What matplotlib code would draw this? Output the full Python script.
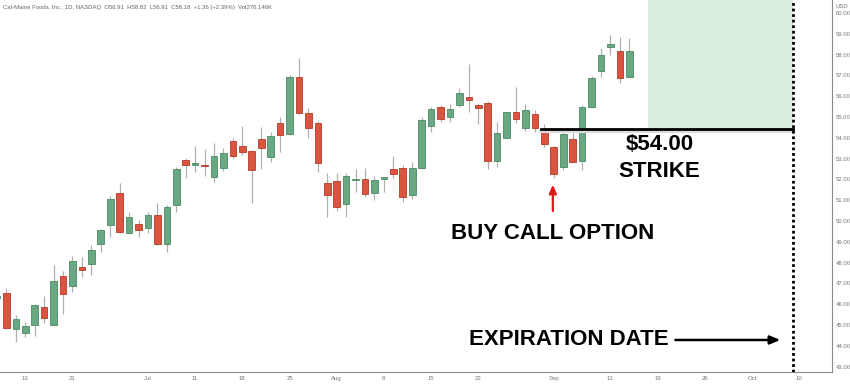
import pandas as pd
import matplotlib
matplotlib.use("Agg")
import matplotlib.pyplot as plt
from matplotlib.patches import Rectangle

# trading days shown on the chart (2022, NASDAQ calendar)
holidays = ["2022-06-20", "2022-07-04", "2022-09-05"]
dates = pd.bdate_range("2022-06-08", "2022-10-14", freq="C", holidays=holidays)

# daily candles, Cal-Maine Foods (CALM)
opens = [46.30, 46.55, 44.79, 44.63, 45.00, 45.88, 45.01, 47.37, 46.88, 47.77,
         47.95, 48.91, 49.79, 51.35, 49.41, 49.86, 49.68, 50.29, 48.88, 50.78,
         52.93, 52.71, 52.68, 52.13, 52.56, 53.85, 53.60, 53.38, 53.94, 53.09,
         54.70, 54.17, 56.91, 55.18, 54.70, 51.84, 51.92, 50.83, 51.96, 52.03,
         51.36, 52.00, 52.49, 52.53, 51.25, 52.53, 54.58, 55.48, 55.00, 55.59,
         55.98, 55.58, 55.69, 52.88, 54.00, 55.25, 54.47, 55.13, 54.34, 53.57,
         52.58, 53.94, 52.88, 55.47, 57.21, 58.37, 58.19, 56.91]
highs = [46.50, 46.76, 45.48, 45.16, 46.00, 46.39, 47.88, 47.61, 48.32, 48.26,
         48.85, 49.60, 51.20, 51.84, 50.45, 50.05, 50.43, 50.85, 50.75, 52.61,
         53.01, 53.60, 53.45, 53.76, 53.50, 53.98, 54.57, 53.40, 54.50, 54.30,
         54.99, 57.02, 57.82, 55.42, 54.81, 52.29, 52.29, 52.29, 52.49, 52.53,
         52.16, 52.12, 53.13, 52.69, 52.82, 54.99, 55.50, 55.58, 55.61, 56.38,
         57.55, 55.66, 55.78, 54.77, 55.25, 56.46, 55.61, 55.34, 54.65, 53.60,
         54.30, 54.30, 55.58, 56.97, 58.30, 58.94, 58.86, 58.82]
lows = [46.20, 44.80, 44.20, 44.44, 44.49, 45.11, 45.00, 45.53, 46.60, 47.29,
        47.40, 48.50, 49.22, 49.44, 49.39, 49.25, 49.41, 48.86, 48.52, 50.42,
        52.05, 52.34, 52.18, 51.89, 52.42, 53.01, 53.17, 50.85, 52.50, 52.85,
        53.33, 54.15, 55.15, 53.98, 52.37, 50.21, 50.50, 50.21, 51.41, 51.17,
        51.00, 51.41, 52.05, 50.90, 51.04, 52.50, 54.26, 54.75, 54.75, 55.47,
        55.25, 54.66, 52.49, 52.61, 54.00, 54.70, 54.34, 54.29, 53.57, 52.08,
        52.45, 52.85, 52.45, 55.45, 56.94, 57.98, 56.62, 56.91]
closes = [46.40, 44.86, 45.29, 44.97, 45.96, 45.35, 47.12, 46.50, 48.09, 47.66,
          48.60, 49.57, 51.07, 49.46, 50.19, 49.57, 50.30, 48.88, 50.67, 52.50,
          52.69, 52.76, 52.63, 53.13, 53.25, 53.14, 53.33, 52.45, 53.50, 54.09,
          54.13, 56.91, 55.18, 54.49, 52.77, 51.25, 50.69, 52.15, 52.00, 51.31,
          51.97, 52.12, 52.26, 51.14, 52.53, 54.84, 55.37, 54.92, 55.37, 56.14,
          55.80, 55.45, 52.88, 54.23, 55.23, 54.92, 55.32, 54.49, 53.70, 52.25,
          54.17, 52.85, 55.47, 56.88, 57.98, 58.51, 56.86, 58.18]

tick_dates = ["2022-06-13", "2022-06-21", "2022-07-01", "2022-07-11", "2022-07-18",
              "2022-07-25", "2022-08-01", "2022-08-08", "2022-08-15", "2022-08-22",
              "2022-09-01", "2022-09-12", "2022-09-19", "2022-09-26", "2022-10-03",
              "2022-10-10"]
tick_labels = ["13", "21", "Jul", "11", "18", "25", "Aug", "8", "15", "22",
               "Sep", "12", "19", "26", "Oct", "10"]
price_ticks = list(range(43, 61))

header = ("Cal-Maine Foods, Inc., 1D, NASDAQ  O56.91  H58.82  L56.91  C58.18  "
          "+1.36 (+2.39%)  Vol276.146K")

GREEN, GREEN_EDGE = "#6aa883", "#4b8a63"
RED, RED_EDGE = "#da5540", "#b63a28"
GRID_GREY = "#8a8a8a"

fig = plt.figure(figsize=(8.5, 3.85), dpi=100)
ax = fig.add_axes([0, 13 / 385, 832 / 850, 372 / 385])

x = list(range(len(closes)))
up = [c >= o for o, c in zip(opens, closes)]
bottoms = [min(o, c) for o, c in zip(opens, closes)]
heights = [max(abs(c - o), 0.06) for o, c in zip(opens, closes)]

# wicks, then bodies
ax.vlines(x, lows, highs, color="#b0b0b0", lw=0.9, zorder=2)
ax.bar(x, heights, bottom=bottoms, width=0.7,
       color=[GREEN if u else RED for u in up],
       edgecolor=[GREEN_EDGE if u else RED_EDGE for u in up],
       linewidth=0.6, zorder=3)

# annotations
ax.add_patch(Rectangle((68.95, 54.4), 84.35 - 68.95, 7, color="#d9eedf",
                       lw=0, zorder=1))
ax.plot([57.6, 84.4], [54.33, 54.33], color="#dcdcdc", lw=3, zorder=3)
ax.plot([57.6, 84.4], [54.4, 54.4], color="black", lw=2, zorder=4)
ax.axvline(84.4, color="black", lw=2, ls=(0, (1, 1)), zorder=4)

bold = dict(family="Liberation Sans", weight="bold", fontsize=16,
            ha="center", va="center", color="black", zorder=5)
ax.text(70.25, 53.70, "$54.00", **bold)
ax.text(70.15, 52.36, "STRIKE", **bold)
ax.text(58.9, 49.38, "BUY CALL OPTION", **bold)
ax.text(60.6, 44.28, "EXPIRATION DATE", **bold)

ax.annotate("", xy=(58.9, 51.88), xytext=(58.9, 50.35),
            arrowprops=dict(arrowstyle="-|>,head_length=0.5,head_width=0.22",
                            color="#e8141b", lw=1.6))
ax.annotate("", xy=(83.3, 44.28), xytext=(71.6, 44.28),
            arrowprops=dict(arrowstyle="-|>,head_length=0.6,head_width=0.25",
                            color="black", lw=1.8))

ax.set_xlim(0.32, 88.48)
ax.set_ylim(42.74, 60.625)

positions = [dates.get_loc(pd.Timestamp(d)) for d in tick_dates]
ax.set_xticks(positions)
ax.set_xticklabels(tick_labels)
ax.yaxis.tick_right()
ax.set_yticks(price_ticks)
ax.set_yticklabels([f"{p:.2f}" for p in price_ticks])
ax.tick_params(axis="both", length=0, labelsize=4.3, labelcolor="#777777",
               labelfontfamily="Liberation Sans")
ax.tick_params(axis="x", pad=3)
ax.tick_params(axis="y", pad=3)

for side in ["top", "left"]:
    ax.spines[side].set_visible(False)
for side in ["right", "bottom"]:
    ax.spines[side].set_color(GRID_GREY)
    ax.spines[side].set_linewidth(0.8)

fig.text(835 / 850, 1 - 6 / 385, "USD", fontsize=4.3, color="#777777",
         family="Liberation Sans", va="center")
fig.text(3 / 850, 1 - 7 / 385, header, fontsize=4.3, color="#666666",
         family="Liberation Sans", va="center")

fig.savefig("out.png", dpi=100)
